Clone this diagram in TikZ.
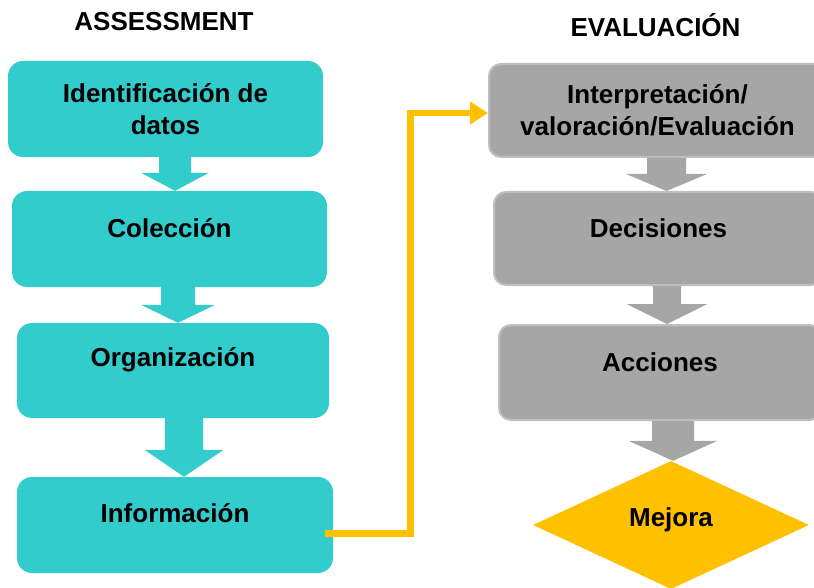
\documentclass[tikz,border=0pt]{standalone}
\usepackage{fontspec}
\setmainfont{Liberation Sans}
\usetikzlibrary{calc,shapes.geometric,arrows.meta}
\definecolor{tealbox}{HTML}{33CCCC}
\definecolor{graybox}{HTML}{A6A6A6}
\definecolor{grayedge}{HTML}{BFBFBF}
\definecolor{yel}{HTML}{FFC000}
% #1 colour, #2 x centre, #3 from node, #4 to node, #5 half shaft, #6 half head, #7 head length
\newcommand\blockarr[7]{%
  \fill[#1] (#2-#5,0 |- #3.south) -- (#2+#5,0 |- #3.south)
    -- ($(#2+#5,0 |- #4.north)+(0,-#7)$) -- ($(#2+#6,0 |- #4.north)+(0,-#7)$)
    -- (#2,0 |- #4.north)
    -- ($(#2-#6,0 |- #4.north)+(0,-#7)$) -- ($(#2-#5,0 |- #4.north)+(0,-#7)$) -- cycle;}
\tikzset{
  tbox/.style={rectangle, rounded corners=15pt, fill=tealbox, inner sep=0pt, align=center},
  gbox/.style={rectangle, rounded corners=12pt, fill=graybox, draw=grayedge, line width=2pt, inner sep=0pt, align=center},
  conn/.style={yel, line width=6.5pt, -{Triangle[width=22pt,length=18pt]}},
}
\begin{document}
\begin{tikzpicture}[x=1pt,y=-1pt,font=\bfseries\fontsize{26}{32}\selectfont]
\clip (0,0) rectangle (814,588);
\useasboundingbox (0,0) rectangle (814,588);
% headers
\node[anchor=base] (h1) at (164,30.5) {ASSESSMENT};
\node[anchor=base] (h2) at (655.5,37) {EVALUACIÓN};
% left column
\node[tbox, minimum width=315pt, minimum height=96pt] (b1) at (165.5,109) {Identificación de\\datos};
\node[tbox, minimum width=315pt, minimum height=96pt, label={[yshift=11pt]center:Colección}] (b2) at (169.5,239) {};
\node[tbox, minimum width=312pt, minimum height=95pt, label={[yshift=10.5pt]center:Organización}] (b3) at (173,370.5) {};
\node[tbox, minimum width=316pt, minimum height=96pt, label={[yshift=12pt]center:Información}] (b4) at (175,525) {};
% right column
\node[gbox, minimum width=337pt, minimum height=93pt] (r1) at (657.5,110.5) {Interpretación/\\valoración/Evaluación};
\node[gbox, minimum width=329pt, minimum height=93pt, label={[yshift=10.5pt]center:Decisiones}] (r2) at (658.5,238.5) {};
\node[gbox, minimum width=322pt, minimum height=95pt, label={[yshift=10.5pt]center:Acciones}] (r3) at (660,372.5) {};
\node[diamond, fill=yel, inner sep=0pt, aspect=2.156, minimum width=276pt, minimum height=128pt, label={[yshift=5pt]center:Mejora}] (mej) at (671,525) {};
% block arrows
\blockarr{tealbox}{175}{b1}{b2}{16}{34}{18}
\blockarr{tealbox}{178}{b2}{b3}{17}{37}{18}
\blockarr{tealbox}{184}{b3}{b4}{19}{39.5}{27}
\blockarr{graybox}{666.5}{r1}{r2}{19.5}{40.5}{17}
\blockarr{graybox}{667}{r2}{r3}{14}{40.5}{20}
\blockarr{graybox}{673}{r3}{mej}{21}{44.5}{20}
% yellow connector
\coordinate (bend) at (410.5,113);
\draw[conn] ([xshift=-8pt,yshift=-8.5pt]b4.east) -| (bend) -- (r1.west |- bend);
\end{tikzpicture}
\end{document}
